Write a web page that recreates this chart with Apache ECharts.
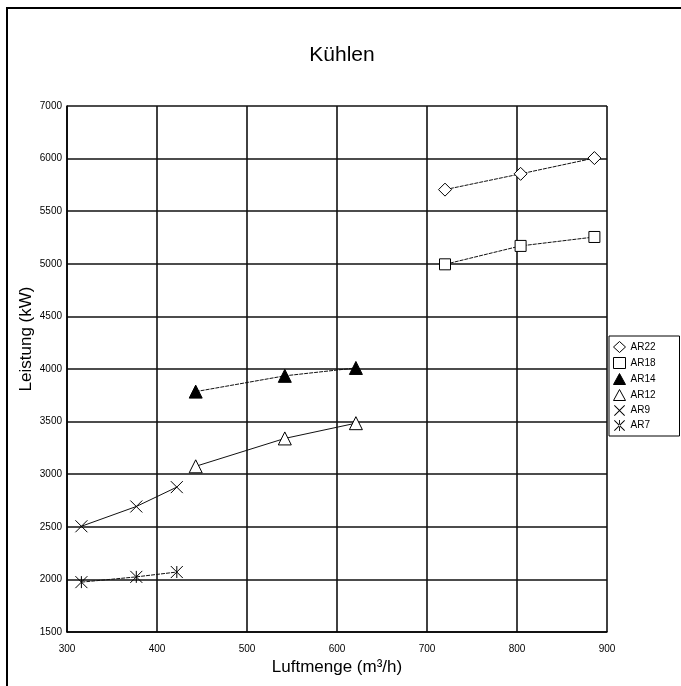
<!DOCTYPE html>
<html>
<head>
<meta charset="utf-8">
<script src="https://cdn.jsdelivr.net/npm/echarts@6/dist/echarts.min.js"></script>
<style>html,body{margin:0;padding:0;background:#fff}#c{width:681px;height:686px}</style>
</head>
<body>
<div id="c"></div>
<script>
const seriesNames = ['AR22', 'AR18', 'AR14', 'AR12', 'AR9', 'AR7'];
const AR22 = [[720, 5705], [804, 5855], [886, 6005]];
const AR18 = [[720, 4995], [804, 5170], [886, 5255]];
const AR14 = [[443, 3785], [542, 3935], [621, 4010]];
const AR12 = [[443, 3075], [542, 3340], [621, 3485]];
const AR9  = [[316, 2505], [377, 2693], [422, 2877]];
const AR7  = [[316, 1974], [377, 2024], [422, 2070]];
const xTickLabels = ['300', '400', '500', '600', '700', '800', '900'];
const yTickLabels = ['1500', '2000', '2500', '3000', '3500', '4000', '4500', '5000', '5500', '6000', '7000'];

const font = '"Liberation Sans", Arial, sans-serif';
const X_PATH = 'path://M0,0L10,10M10,0L0,10';
const AST_PATH = 'path://M0,0L10,10M10,0L0,10M5,0L5,10';
// filled outlines for the legend icons
const X_FILL = 'path://M0,0.6L0.6,0L5,4.4L9.4,0L10,0.6L5.6,5L10,9.4L9.4,10L5,5.6L0.6,10L0,9.4L4.4,5Z';
const AST_FILL = 'path://M0,0.6L0.6,0L5,4.4L9.4,0L10,0.6L5.6,5L10,9.4L9.4,10L5,5.6L0.6,10L0,9.4L4.4,5Z M4.6,0L4.6,10L5.4,10L5.4,0Z';

const symbols = {
  AR22: { symbol: 'diamond', size: 13, fill: '#fff', legendIcon: 'diamond', legendFill: '#fff', legendBorder: 1 },
  AR18: { symbol: 'rect', size: 11, fill: '#fff', legendIcon: 'rect', legendFill: '#fff', legendBorder: 1 },
  AR14: { symbol: 'triangle', size: 13, fill: '#000', legendIcon: 'triangle', legendFill: '#000', legendBorder: 1 },
  AR12: { symbol: 'triangle', size: 13, fill: '#fff', legendIcon: 'triangle', legendFill: '#fff', legendBorder: 1 },
  AR9:  { symbol: X_PATH, size: 12, fill: 'none', legendIcon: X_FILL, legendFill: '#000', legendBorder: 0 },
  AR7:  { symbol: AST_PATH, size: 12, fill: 'none', legendIcon: AST_FILL, legendFill: '#000', legendBorder: 0 }
};
const dataMap = { AR22, AR18, AR14, AR12, AR9, AR7 };
const dashed = { AR22: true, AR18: true, AR14: true, AR7: true };

const series = seriesNames.map(n => ({
  name: n,
  type: 'line',
  data: dataMap[n],
  symbol: symbols[n].symbol,
  symbolSize: symbols[n].size,
  showSymbol: true,
  z: 5,
  itemStyle: { color: symbols[n].fill, borderColor: '#000', borderWidth: 1 },
  lineStyle: { color: '#111', width: 1, type: dashed[n] ? [4, 1] : 'solid' },
  emphasis: { disabled: true },
  animation: false
}));

const chart = echarts.init(document.getElementById('c'), null, { renderer: 'canvas' });
chart.setOption({
  backgroundColor: '#fff',
  animation: false,
  title: {
    text: 'Kühlen',
    left: 337, top: 40, textAlign: 'center',
    textStyle: { fontFamily: font, fontSize: 21, fontWeight: 'normal', color: '#000' }
  },
  grid: { left: 67, right: 74, top: 106, bottom: 54 },
  legend: {
    orient: 'vertical',
    left: 609, top: 336,
    padding: [5, 24, 5, 4],
    itemGap: 4,
    itemWidth: 12, itemHeight: 11,
    borderColor: '#000', borderWidth: 1,
    backgroundColor: '#fff',
    textStyle: { fontFamily: font, fontSize: 10, color: '#000' },
    data: seriesNames.map(n => ({
      name: n,
      icon: symbols[n].legendIcon,
      itemStyle: { color: symbols[n].legendFill, borderColor: '#000', borderWidth: symbols[n].legendBorder }
    }))
  },
  xAxis: {
    type: 'value', min: 300, max: 900, interval: 100,
    name: 'Luftmenge (m³/h)', nameLocation: 'middle', nameGap: 22,
    nameTextStyle: { fontFamily: font, fontSize: 17, color: '#000' },
    axisLine: { show: true, lineStyle: { color: '#000', width: 1.5 } },
    axisTick: { show: false },
    axisLabel: {
      fontFamily: font, fontSize: 10, color: '#000', margin: 12,
      formatter: v => xTickLabels[Math.round((v - 300) / 100)]
    },
    splitLine: { show: true, lineStyle: { color: '#111', width: 1.6 } }
  },
  yAxis: {
    type: 'value', min: 1500, max: 6500, interval: 500,
    name: 'Leistung (kW)', nameLocation: 'middle', nameGap: 32,
    nameMoveOverlap: false,
    nameTextStyle: { fontFamily: font, fontSize: 17, color: '#000', padding: [0, 0, 0, 60] },
    axisLine: { show: true, lineStyle: { color: '#000', width: 1.5 } },
    axisTick: { show: false },
    axisLabel: {
      fontFamily: font, fontSize: 10, color: '#000', margin: 5,
      formatter: v => yTickLabels[Math.round((v - 1500) / 500)]
    },
    splitLine: { show: true, lineStyle: { color: '#111', width: 1.6 } }
  },
  graphic: [
    { type: 'line', shape: { x1: 7, y1: 8, x2: 7, y2: 686 }, style: { stroke: '#000', lineWidth: 2 }, silent: true },
    { type: 'line', shape: { x1: 6, y1: 8, x2: 681, y2: 8 }, style: { stroke: '#000', lineWidth: 2 }, silent: true }
  ],
  series
});
</script>
</body>
</html>
